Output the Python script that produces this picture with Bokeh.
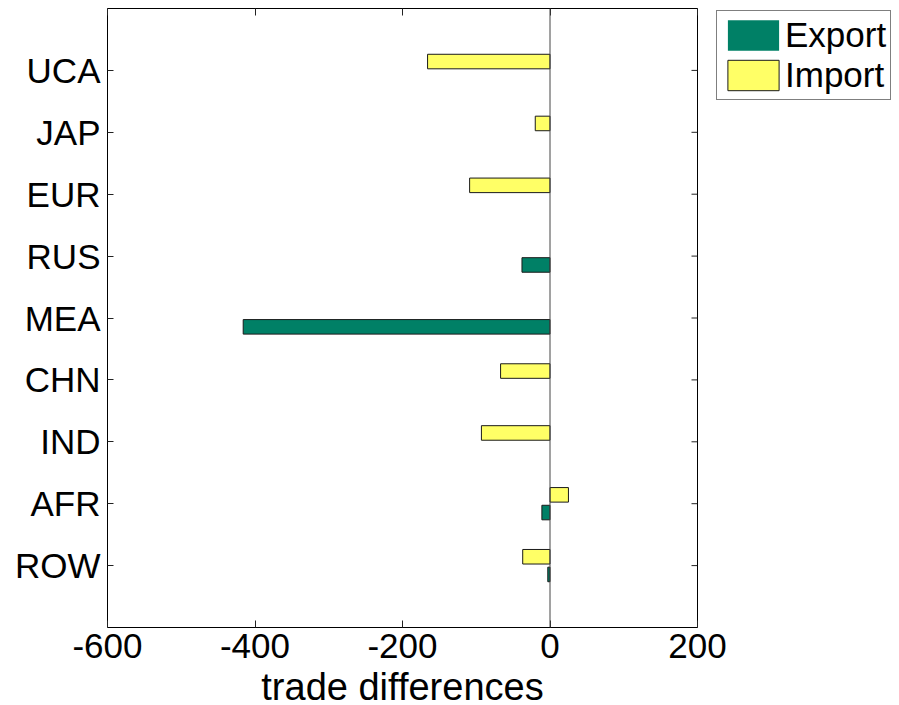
from bokeh.plotting import figure
from bokeh.models import (Range1d, FixedTicker, LinearAxis, Span, Legend, LegendItem,
                          ColumnDataSource)
from bokeh.embed import file_html
from bokeh.resources import INLINE

categories = ["UCA", "JAP", "EUR", "RUS", "MEA", "CHN", "IND", "AFR", "ROW"]
export_vals = [0, 0, 0, -38, -416, 0, 0, -11, -3]
import_vals = [-166, -20, -109, 0, 0, -67, -93, 25, -37]
x_ticks = [-600, -400, -200, 0, 200]
x_tick_labels = ["-600", "-400", "-200", "0", "200"]
series_names = ["Export", "Import"]
series_colors = ["#008066", "#FFFF66"]

FONT = "Liberation Sans"
idx = list(range(1, len(categories) + 1))
FW, FH = 590, 619
XMIN, XMAX = -600, 200

p = figure(frame_width=FW, frame_height=FH, output_backend="svg", toolbar_location=None,
           x_range=Range1d(XMIN, XMAX), y_range=Range1d(10, 0),
           min_border_left=107, min_border_right=0, min_border_top=8,
           min_border_bottom=70)
p.xgrid.visible = False
p.ygrid.visible = False
p.outline_line_color = "#000000"
p.outline_line_width = 1
p.background_fill_color = "white"
p.border_fill_color = "white"

off = 0.143
h = 0.235
src_e = ColumnDataSource(dict(y=[i + off for i in idx], v=export_vals,
                              la=[0 if v == 0 else 1 for v in export_vals]))
src_i = ColumnDataSource(dict(y=[i - off for i in idx], v=import_vals,
                              la=[0 if v == 0 else 1 for v in import_vals]))
r_e = p.hbar(y="y", right="v", left=0, height=h, source=src_e,
             fill_color=series_colors[0], line_color="#1a1a1a", line_width=1,
             line_alpha="la")
r_i = p.hbar(y="y", right="v", left=0, height=h, source=src_i,
             fill_color=series_colors[1], line_color="#1a1a1a", line_width=1,
             line_alpha="la")

p.add_layout(Span(location=0, dimension="height", line_color="#444444", line_width=1))

# mirrored tick marks on the right edge (inside), 6 px long
tick_len = 6 * (XMAX - XMIN) / FW
p.segment(x0=[XMAX] * len(idx), x1=[XMAX - tick_len] * len(idx), y0=idx, y1=idx,
          line_color="#222222", line_width=1)

xa = p.xaxis[0]
xa.ticker = FixedTicker(ticks=x_ticks)
xa.major_label_overrides = {t: s for t, s in zip(x_ticks, x_tick_labels)}
xa.axis_label = "trade differences"
ya = p.yaxis[0]
ya.ticker = FixedTicker(ticks=idx)
ya.major_label_overrides = {i: c for i, c in zip(idx, categories)}

for ax in (xa, ya):
    ax.major_tick_in = 7
    ax.major_tick_out = 0
    ax.minor_tick_in = 0
    ax.minor_tick_out = 0
    ax.axis_line_color = None
    ax.major_tick_line_color = "#222222"
    ax.major_label_text_font = FONT
    ax.major_label_text_font_size = "35px"
    ax.major_label_text_color = "black"
ya.major_tick_in = 6
xa.major_label_standoff = 6
ya.major_label_standoff = 7
xa.axis_label_text_font = FONT
xa.axis_label_text_font_size = "38px"
xa.axis_label_text_font_style = "normal"
xa.axis_label_text_color = "black"
xa.axis_label_standoff = 5

top = LinearAxis(ticker=FixedTicker(ticks=x_ticks), major_tick_in=7, major_tick_out=0,
                 minor_tick_in=0, minor_tick_out=0, axis_line_color=None,
                 major_label_overrides={t: "" for t in x_ticks},
                 major_label_text_font_size="1px", major_label_standoff=0,
                 major_tick_line_color="#222222")
p.add_layout(top, "above")

legend = Legend(items=[LegendItem(label=series_names[0], renderers=[r_e]),
                       LegendItem(label=series_names[1], renderers=[r_i])],
                location=(19, FH - 92), glyph_width=64, glyph_height=38,
                label_standoff=-2, padding=4, spacing=0, margin=8,
                label_text_font=FONT, label_text_font_size="35px",
                label_text_color="black",
                border_line_color="black", border_line_width=1,
                background_fill_color="white", background_fill_alpha=1)
p.add_layout(legend, "right")

open("out.html", "w").write(file_html(p, INLINE))
